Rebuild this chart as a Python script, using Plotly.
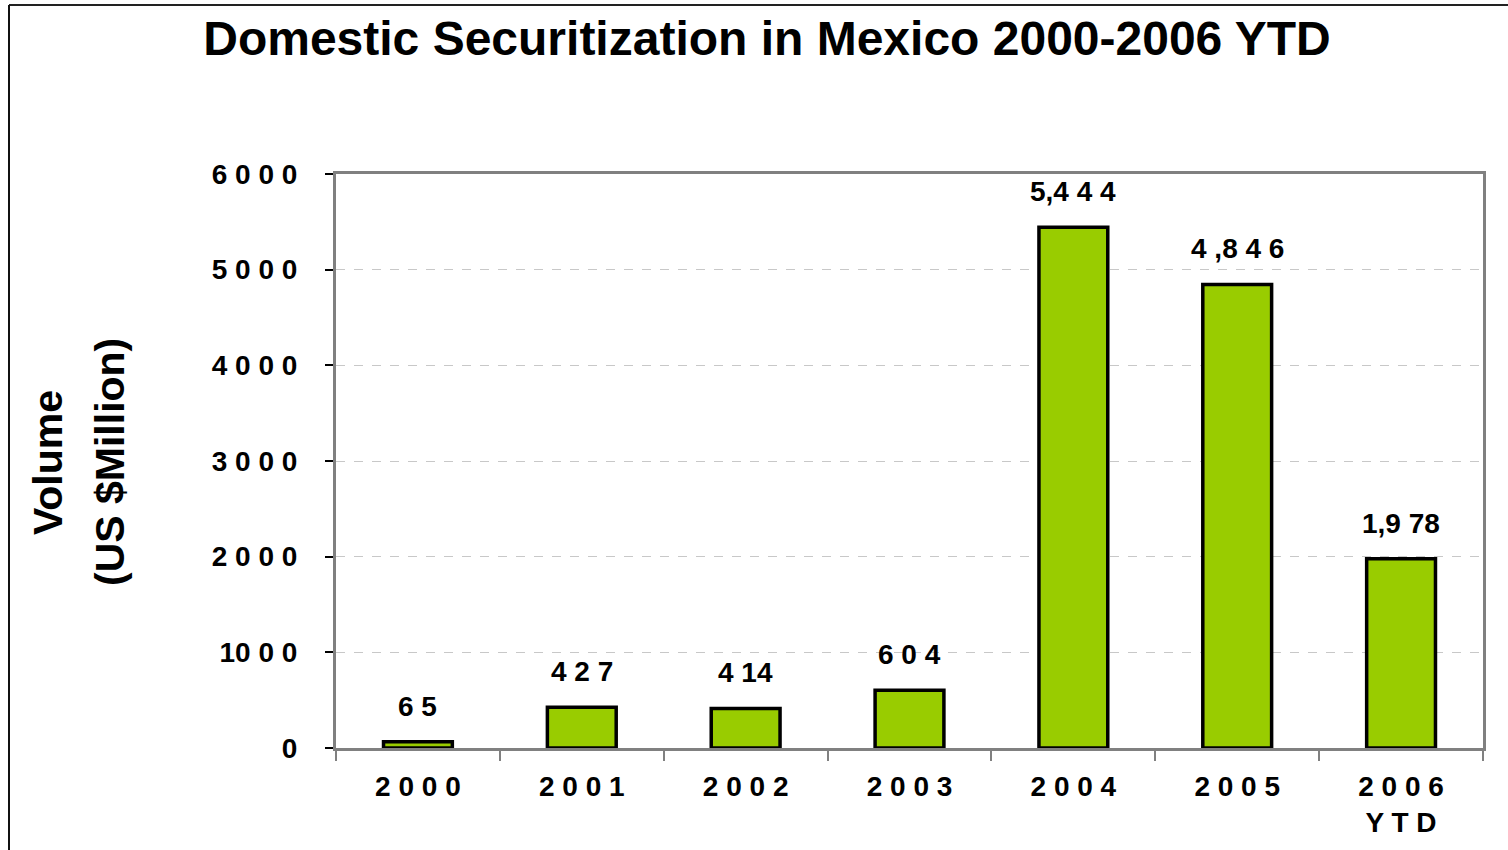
import plotly.graph_objects as go

# ---- data ----
categories = ["2000", "2001", "2002", "2003", "2004", "2005", "2006 YTD"]
values = [65, 427, 414, 604, 5444, 4846, 1978]
value_labels = ["6 5", "4 2 7", "4 14", "6 0 4", "5,4 4 4", "4 ,8 4 6", "1,9 78"]
x_tick_labels = ["2 0 0 0", "2 0 0 1", "2 0 0 2", "2 0 0 3", "2 0 0 4", "2 0 0 5", "2 0 0 6<br>Y T D"]
y_tick_vals = [0, 1000, 2000, 3000, 4000, 5000, 6000]
y_tick_labels = ["0", "10 0 0", "2 0 0 0", "3 0 0 0", "4 0 0 0", "5 0 0 0", "6 0 0 0"]

FONT = "Liberation Sans, Arial, sans-serif"
W, H = 1508, 850
L, R, T, B = 336, 1483, 174, 748  # plot area in pixels


def px_x(px):
    return (px - L) / (R - L)


def px_y(py):
    return (B - py) / (B - T)


fig = go.Figure()
fig.add_trace(go.Bar(
    x=categories,
    y=values,
    width=0.42,
    marker=dict(color="#99CC00", line=dict(color="#000000", width=3.5)),
    hoverinfo="x+y",
))

annotations = []
for i, (v, t) in enumerate(zip(values, value_labels)):
    annotations.append(dict(
        x=i, y=v, xref="x", yref="y", text=t, showarrow=False,
        yanchor="bottom", yshift=18,
        font=dict(family=FONT, size=28, color="#000000", weight="bold"),
    ))

# y-axis title (two lines)
annotations.append(dict(
    x=px_x(48), y=px_y(463), xref="paper", yref="paper", text="Volume",
    textangle=-90, showarrow=False, xanchor="center", yanchor="middle",
    font=dict(family=FONT, size=41, color="#000000", weight="bold"),
))
annotations.append(dict(
    x=px_x(110), y=px_y(462), xref="paper", yref="paper", text="(US $Million)",
    textangle=-90, showarrow=False, xanchor="center", yanchor="middle",
    font=dict(family=FONT, size=41, color="#000000", weight="bold"),
))

shapes = [
    dict(type="line", xref="paper", yref="paper", x0=px_x(9), x1=px_x(1508),
         y0=px_y(5), y1=px_y(5), line=dict(color="#222222", width=2)),
    dict(type="line", xref="paper", yref="paper", x0=px_x(9), x1=px_x(9),
         y0=px_y(5), y1=px_y(851), line=dict(color="#111111", width=2)),
]

fig.update_layout(
    width=W, height=H,
    margin=dict(l=L, r=W - R, t=T, b=H - B, autoexpand=False),
    paper_bgcolor="#ffffff",
    plot_bgcolor="#ffffff",
    showlegend=False,
    title=dict(
        text="Domestic Securitization in Mexico 2000-2006 YTD",
        x=767 / W, xanchor="center", xref="container",
        y=1 - 38 / H, yanchor="middle", yref="container",
        font=dict(family=FONT, size=48, color="#000000", weight="bold"),
    ),
    xaxis=dict(
        type="category",
        range=[-0.5, len(categories) - 0.5],
        tickvals=categories,
        ticktext=x_tick_labels,
        tickson="boundaries",
        ticks="outside", ticklen=10, tickwidth=2, tickcolor="#808080",
        showline=True, linecolor="#808080", linewidth=3, mirror=True,
        showgrid=False, automargin=False, tickangle=0,
        tickfont=dict(family=FONT, size=28, color="#000000", weight="bold"),
        ticklabelstandoff=11,
    ),
    yaxis=dict(
        range=[0, 6000],
        tickvals=y_tick_vals,
        ticktext=y_tick_labels,
        ticks="outside", ticklen=8, tickwidth=1.5, tickcolor="#000000",
        showline=True, linecolor="#808080", linewidth=3, mirror=True,
        showgrid=True, gridcolor="#c8c8c8", gridwidth=1, griddash="dash",
        zeroline=False, automargin=False,
        tickfont=dict(family=FONT, size=28, color="#000000", weight="bold"),
        ticklabelstandoff=22,
    ),
    annotations=annotations,
    shapes=shapes,
)

fig.write_html(
    "out.html",
    config={"displayModeBar": False},
    post_script="document.body.style.margin='0px';document.body.style.overflow='hidden';",
)
